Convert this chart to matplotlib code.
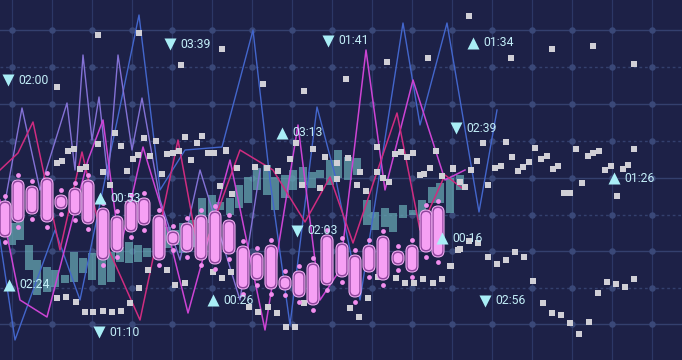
import numpy as np
import matplotlib
matplotlib.use("Agg")
from matplotlib import pyplot as plt
from matplotlib.patches import FancyBboxPatch

# ---- data (pixel-like chart units, y grows downward) ----
candle_x = [5, 18, 32, 47, 61, 75, 88, 103, 117, 131, 144, 159, 173, 187, 201, 215, 229,
            243, 257, 271, 285, 299, 313, 327, 342, 355, 369, 383, 398, 412, 426, 438]
candle_top = [203, 182, 188, 180, 197, 190, 182, 210, 218, 202, 200, 217, 233, 225, 217, 213, 222,
              248, 255, 247, 278, 273, 265, 237, 245, 257, 247, 238, 253, 247, 212, 208]
candle_bot = [235, 220, 212, 220, 207, 213, 222, 258, 250, 230, 223, 258, 243, 250, 258, 262, 252,
              287, 278, 287, 288, 295, 303, 283, 275, 295, 270, 278, 263, 270, 250, 255]

teal_x = [12, 20, 29, 37, 47, 55, 65, 74, 83, 92, 102, 111, 120, 129, 138, 147, 157, 167, 175,
          183, 193, 202, 212, 220, 230, 239, 248, 257, 267, 275, 285, 293, 303, 312, 320, 330,
          338, 348, 357, 367, 375, 385, 393, 403, 413, 422, 432, 440, 450, 460]
teal_top = [223, 215, 245, 260, 267, 270, 275, 252, 258, 253, 250, 252, 247, 242, 245, 248, 240,
            227, 230, 223, 220, 198, 195, 202, 198, 185, 177, 168, 165, 177, 175, 170, 167, 172,
            170, 160, 150, 157, 158, 200, 212, 208, 213, 205, 210, 200, 187, 183, 178, 175]
teal_bot = [245, 240, 270, 295, 292, 287, 283, 282, 273, 280, 285, 282, 262, 263, 262, 257, 255,
            248, 245, 253, 247, 218, 223, 210, 215, 208, 203, 190, 195, 210, 198, 190, 185, 188,
            178, 185, 178, 180, 175, 225, 230, 227, 232, 218, 215, 220, 203, 203, 213, 190]

line_blue_x = [0, 15, 55, 80, 139, 160, 185, 222, 253, 270, 290, 317, 335, 360, 403, 420, 447, 479, 497]
line_blue_y = [240, 340, 230, 300, 15, 190, 150, 147, 30, 180, 325, 107, 175, 300, 23, 125, 23, 212, 110]
line_purple_x = [0, 22, 40, 67, 75, 83, 92, 99, 108, 118, 132, 142, 160, 180, 200, 240, 260]
line_purple_y = [230, 108, 190, 103, 170, 55, 140, 97, 180, 55, 150, 98, 200, 260, 170, 300, 170]
line_magenta_x = [0, 20, 47, 88, 103, 120, 143, 165, 188, 230, 265, 298, 320, 340, 366, 385, 413, 445, 465]
line_magenta_y = [200, 300, 317, 160, 120, 250, 147, 220, 313, 160, 330, 125, 300, 270, 50, 190, 80, 180, 170]
line_crimson_x = [0, 18, 33, 60, 82, 100, 140, 178, 200, 240, 273, 305, 330, 353, 397, 420, 445, 462]
line_crimson_y = [170, 153, 122, 250, 152, 230, 320, 140, 260, 150, 170, 222, 177, 243, 113, 230, 175, 188]

sq_x = [98, 139, 222, 181, 57, 115, 98, 121, 144, 156, 185, 202, 197, 68, 74, 138, 133, 150, 167,
        173, 179, 191, 208, 214, 226, 237, 57, 62, 80, 86, 103, 127, 162,
        263, 304, 346, 387, 428, 226, 255, 267, 278, 237, 296, 290, 313, 325, 348, 337, 360, 377,
        395, 401, 407, 413, 436, 430, 424, 442, 453,
        469, 511, 552, 593, 634, 483, 506, 477, 453, 471, 512, 495, 501, 518, 523, 529, 535, 541,
        547, 553, 558, 576, 588, 593, 599, 605, 611, 623, 628, 634,
        460, 465, 488, 582, 564, 570, 617, 460, 469, 478, 488, 497, 506, 515, 524, 451, 442, 533,
        543, 552, 561, 570, 579, 589, 598, 607, 616, 625, 634,
        110, 220, 232, 148, 167, 139, 175, 185, 57, 66, 76, 85, 93, 103, 112, 121, 130, 213, 222, 231,
        249, 258, 268, 277, 286, 295, 304, 350, 359, 368, 378, 396, 405, 414, 423, 433, 442, 450,
        458, 420, 320, 337, 302, 357, 366, 383, 389, 377]
sq_y = [35, 33, 49, 65, 87, 133, 144, 146, 138, 141, 137, 136, 143, 151, 149, 155, 159, 156, 154,
        153, 151, 160, 153, 153, 150, 168, 163, 161, 169, 167, 172, 171, 174,
        84, 91, 79, 62, 58, 151, 167, 168, 171, 168, 143, 159, 149, 157, 158, 163, 172, 147,
        154, 152, 157, 153, 151, 168, 174, 176, 168,
        16, 58, 49, 46, 64, 143, 142, 161, 169, 170, 157, 168, 166, 171, 167, 162, 148, 159,
        156, 169, 166, 149, 156, 153, 151, 170, 166, 169, 165, 149,
        182, 187, 185, 183, 193, 193, 196, 249, 241, 243, 257, 264, 260, 252, 257, 266, 279, 281,
        303, 313, 315, 323, 334, 322, 293, 282, 284, 287, 279,
        185, 186, 194, 270, 270, 288, 285, 283, 298, 297, 302, 312, 312, 311, 312, 311, 303, 272, 278, 272,
        307, 312, 307, 313, 327, 327, 303, 308, 317, 298, 277, 278, 283, 283, 279, 283, 279, 266,
        250, 175, 188, 179, 185, 185, 191, 178, 182, 172]

label_text = ["02:00", "03:39", "01:41", "01:34", "03:13", "02:39", "01:26",
              "00:53", "02:03", "00:16", "02:24", "00:26", "02:56", "01:10"]
label_x = [8, 170, 328, 473, 282, 456, 614, 100, 297, 442, 9, 213, 485, 99]
label_y = [80, 44, 41, 43, 133, 128, 178, 198, 231, 238, 285, 300, 301, 332]
label_dir = ["down", "down", "down", "up", "up", "down", "up",
             "up", "down", "up", "up", "up", "down", "down"]

grid_x = [12 + 40 * i for i in range(17)]
grid_y = [30, 67, 104, 141, 178, 215, 251, 288, 324]

# ---- figure ----
bg = "#1d2147"
fig = plt.figure(figsize=(6.82, 3.6), dpi=100, facecolor=bg)
ax = fig.add_axes([0, 0, 1, 1])
ax.set_facecolor(bg)
ax.set_xlim(0, 682)
ax.set_ylim(360, 0)
ax.axis("off")

# grid
for i, gy in enumerate(grid_y):
    ax.axhline(gy, color="#34406e", lw=1.0, ls="-" if i % 2 == 0 else (0, (2, 2)), zorder=1)
for gx in grid_x:
    ax.axvline(gx, color="#2c3766", lw=0.9, zorder=1)
gxx, gyy = np.meshgrid(grid_x, grid_y)
ax.scatter(gxx.ravel(), gyy.ravel(), s=22, color="#3a4878", zorder=2, lw=0)

# teal bars
ax.bar(teal_x, np.array(teal_bot) - np.array(teal_top), bottom=teal_top, width=8,
       color="#69aeb7", alpha=0.7, zorder=3)

# zigzag lines
ax.plot(line_blue_x, line_blue_y, color="#4366cc", lw=1.0, zorder=4)
ax.plot(line_purple_x, line_purple_y, color="#8472d6", lw=1.0, zorder=4)
ax.plot(line_magenta_x, line_magenta_y, color="#cc44d4", lw=1.1, zorder=4)
ax.plot(line_crimson_x, line_crimson_y, color="#cf2c80", lw=1.1, zorder=4)

# gray squares
ax.scatter(sq_x, sq_y, marker="s", s=22, color="#d0cfd6", lw=0, zorder=5)

# candles
for x, t, b in zip(candle_x, candle_top, candle_bot):
    h = b - t
    ax.add_patch(FancyBboxPatch((x - 6, t - 2), 12, h + 4,
                                boxstyle="round,pad=0,rounding_size=6",
                                fc="#8e449c", ec="#eeaaf0", lw=0.8, zorder=6))
    ax.add_patch(FancyBboxPatch((x - 4.3, t), 8.6, h,
                                boxstyle="round,pad=0,rounding_size=4.3",
                                fc="#f6a0f4", ec="none", zorder=7))
    ax.scatter([x, x], [t - 7, b + 7], s=12, color="#f28eee", lw=0, zorder=7)

# markers and time labels
for txt, x, y, d in zip(label_text, label_x, label_y, label_dir):
    ax.scatter([x], [y], marker="v" if d == "down" else "^", s=75,
               color="#a9eef6", lw=0, zorder=8)
    ax.text(x + 10, y, txt, color="#c3eef8", fontsize=8.8, family="Roboto",
            va="center", ha="left", zorder=8)

fig.savefig("out.png", dpi=100, facecolor=bg)
